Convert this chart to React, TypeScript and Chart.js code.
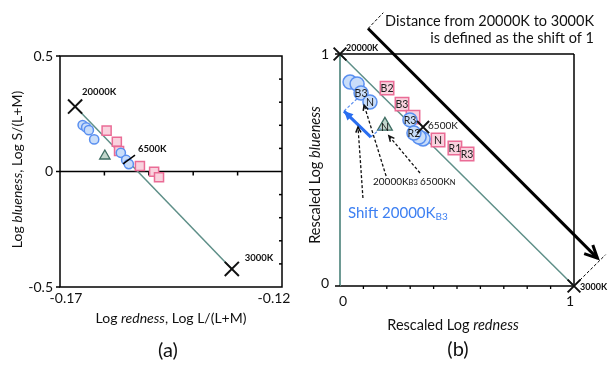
import React, { useEffect, useRef } from 'react';
import { Chart, registerables } from 'chart.js';
Chart.register(...registerables);

const FONT = 'Lato, "Open Sans", sans-serif';

// ---------- Panel (a): Log redness vs Log blueness ----------
const aCircleX = [-0.1649, -0.1641, -0.1635, -0.1623, -0.1563, -0.1551, -0.1545];
const aCircleY = [0.201, 0.191, 0.179, 0.139, 0.081, 0.05, 0.032];
const aSquareX = [-0.1595, -0.1572, -0.1567, -0.152, -0.1488, -0.1477];
const aSquareY = [0.177, 0.129, 0.089, 0.024, -0.001, -0.025];
const aTriangleX = [-0.1599];
const aTriangleY = [0.067];
const aRefNames = ['20000K', '3000K'];
const aRefX = [-0.1666, -0.1313];
const aRefY = [0.281, -0.422];
const a6500Leader = [[-0.1558, 0.033], [-0.1531, 0.071]];
const aXMinorTicks = [-0.16, -0.15, -0.14, -0.13];
const aXTickVals = [-0.17, -0.12];
const aXTickLabels = ['-0.17', '-0.12'];
const aYTickVals = [0.5, 0, -0.5];
const aYTickLabels = ['0.5', '0', '-0.5'];
const aYMinorTicks = [0.4, 0.3, 0.2, 0.1, -0.1, -0.2, -0.3, -0.4];

// ---------- Panel (b): rescaled ----------
const bCircleX = [0.043, 0.073, 0.09, 0.128, 0.299, 0.355, 0.338, 0.316];
const bCircleY = [0.879, 0.871, 0.832, 0.793, 0.716, 0.634, 0.642, 0.659];
const bCircleLabels = ['', '', 'B3', 'N', 'R3', '', '', 'R2'];
const bSquareX = [0.201, 0.265, 0.312, 0.419, 0.491, 0.543];
const bSquareY = [0.853, 0.784, 0.728, 0.629, 0.595, 0.569];
const bSquareLabels = ['B2', 'B3', '', 'N', 'R1', 'R3'];
const bTriangleX = [0.192];
const bTriangleY = [0.69];
const bTriangleLabels = ['N'];
const bRefNames = ['20000K', '3000K', '6500K'];
const bRefX = [0, 1, 0.355];
const bRefY = [1, 0, 0.685];
const bXMinorTicks = [0.1, 0.2, 0.3, 0.4, 0.5, 0.6, 0.7, 0.8, 0.9];
const bXTickVals = [0, 1];
const bYTickVals = [1, 0];
const bBigArrow = [[0.12, 1.11], [1.1, 0.12]];
const bDashTop = [[0.12, 1.11], [0.185, 1.178]];
const bDashBottom = [[1.01, 0.01], [1.135, 0.135]];
const bShiftArrow = [[0.132, 0.642], [0.017, 0.754]];
const bShiftDash = [
  [[0.017, 0.754], [0.081, 0.815]],
  [[0.132, 0.642], [0.175, 0.681]],
];
const bPointerArrows = [
  [[0.098, 0.379], [0.077, 0.685]],
  [[0.197, 0.474], [0.103, 0.78]],
  [[0.342, 0.487], [0.209, 0.647]],
];
const bTitleLines = ['Distance from 20000K to 3000K', 'is defined as the shift of 1'];

type Part = { text: string; font: string; color?: string; dy?: number };

function drawRich(ctx: CanvasRenderingContext2D, parts: Part[], x: number, y: number, align: 'left' | 'center' | 'right' = 'left') {
  let total = 0;
  for (const p of parts) {
    ctx.font = p.font;
    total += ctx.measureText(p.text).width;
  }
  let cx = align === 'center' ? x - total / 2 : align === 'right' ? x - total : x;
  ctx.textBaseline = 'middle';
  ctx.textAlign = 'left';
  for (const p of parts) {
    ctx.font = p.font;
    ctx.fillStyle = p.color || '#111';
    ctx.fillText(p.text, cx, y + (p.dy || 0));
    cx += ctx.measureText(p.text).width;
  }
}

function arrow(
  ctx: CanvasRenderingContext2D,
  x1: number, y1: number, x2: number, y2: number,
  o: { color: string; width: number; dash?: number[]; head: number; headWidth?: number; fill?: boolean }
) {
  ctx.save();
  ctx.strokeStyle = o.color;
  ctx.lineWidth = o.width;
  ctx.setLineDash(o.dash || []);
  ctx.beginPath();
  ctx.moveTo(x1, y1);
  ctx.lineTo(x2, y2);
  ctx.stroke();
  ctx.setLineDash([]);
  const a = Math.atan2(y2 - y1, x2 - x1);
  const sp = 0.45;
  const h = o.head;
  ctx.lineWidth = o.headWidth || o.width;
  ctx.beginPath();
  ctx.moveTo(x2 - h * Math.cos(a - sp), y2 - h * Math.sin(a - sp));
  ctx.lineTo(x2, y2);
  ctx.lineTo(x2 - h * Math.cos(a + sp), y2 - h * Math.sin(a + sp));
  if (o.fill) {
    ctx.closePath();
    ctx.fillStyle = o.color;
    ctx.fill();
  } else {
    ctx.stroke();
  }
  ctx.restore();
}

function line(ctx: CanvasRenderingContext2D, x1: number, y1: number, x2: number, y2: number, color: string, width: number, dash?: number[]) {
  ctx.save();
  ctx.strokeStyle = color;
  ctx.lineWidth = width;
  ctx.setLineDash(dash || []);
  ctx.beginPath();
  ctx.moveTo(x1, y1);
  ctx.lineTo(x2, y2);
  ctx.stroke();
  ctx.restore();
}

const pts = (xs: number[], ys: number[]) => xs.map((x, i) => ({ x, y: ys[i] }));

const TEAL = '#5e8f88';
const CIRCLE_FILL = '#c9ddf9';
const CIRCLE_EDGE = '#5a90f0';
const SQUARE_FILL = '#f9d2de';
const SQUARE_EDGE = '#ea6c96';
const TRI_FILL = '#c3d7cd';
const TRI_EDGE = '#3f6e63';

const pluginA = {
  id: 'panelA',
  beforeDatasetsDraw(chart: any) {
    const ctx: CanvasRenderingContext2D = chart.ctx;
    const { left, right, top, bottom } = chart.chartArea;
    const X = (v: number) => chart.scales.x.getPixelForValue(v);
    const Y = (v: number) => chart.scales.y.getPixelForValue(v);
    ctx.save();
    ctx.strokeStyle = '#000';
    ctx.lineWidth = 1.5;
    ctx.strokeRect(left, top, right - left, bottom - top);
    line(ctx, left, Y(0), right, Y(0), '#000', 1.5);
    for (const v of aXMinorTicks) line(ctx, X(v), Y(0), X(v), Y(0) + 4, '#000', 1.5);
    for (const v of aYMinorTicks) line(ctx, right, Y(v), right - 3, Y(v), '#000', 1.5);
    for (const v of aYTickVals) line(ctx, left, Y(v), left - 4, Y(v), '#000', 1.5);
    ctx.restore();
  },
  afterDatasetsDraw(chart: any) {
    const ctx: CanvasRenderingContext2D = chart.ctx;
    const { left, right, top, bottom } = chart.chartArea;
    const X = (v: number) => chart.scales.x.getPixelForValue(v);
    const Y = (v: number) => chart.scales.y.getPixelForValue(v);
    ctx.save();
    const tf = `14px ${FONT}`;
    aYTickVals.forEach((v, i) => drawRich(ctx, [{ text: aYTickLabels[i], font: tf }], left - 7, Y(v), 'right'));
    const xOff = [6, -8];
    aXTickVals.forEach((v, i) => drawRich(ctx, [{ text: aXTickLabels[i], font: tf }], X(v) + xOff[i], bottom + 11, 'center'));
    const f = `14px ${FONT}`;
    const fi = `italic 14px ${FONT}`;
    drawRich(ctx, [{ text: 'Log ', font: f }, { text: 'redness', font: fi }, { text: ', Log L/(L+M)', font: f }], (left + right) / 2, bottom + 31, 'center');
    ctx.save();
    ctx.translate(17, (top + bottom) / 2 - 2);
    ctx.rotate(-Math.PI / 2);
    drawRich(ctx, [{ text: 'Log ', font: f }, { text: 'blueness', font: fi }, { text: ', Log S/(L+M)', font: f }], 0, 0, 'center');
    ctx.restore();
    drawRich(ctx, [{ text: '(a)', font: `20px ${FONT}` }], (left + right) / 2 - 3, 351, 'center');
    const sf = `bold 9.5px ${FONT}`;
    drawRich(ctx, [{ text: aRefNames[0], font: sf }], X(aRefX[0]) + 7, Y(aRefY[0]) - 15, 'left');
    drawRich(ctx, [{ text: aRefNames[1], font: sf }], X(aRefX[1]) + 13, Y(aRefY[1]) - 11, 'left');
    line(ctx, X(a6500Leader[0][0]), Y(a6500Leader[0][1]), X(a6500Leader[1][0]), Y(a6500Leader[1][1]), '#000', 1.5);
    drawRich(ctx, [{ text: '6500K', font: sf }], X(a6500Leader[1][0]) + 3, Y(a6500Leader[1][1]) - 6, 'left');
    ctx.restore();
  },
};

const pluginB = {
  id: 'panelB',
  beforeDatasetsDraw(chart: any) {
    const ctx: CanvasRenderingContext2D = chart.ctx;
    const { left, right, top, bottom } = chart.chartArea;
    const X = (v: number) => chart.scales.x.getPixelForValue(v);
    const Y = (v: number) => chart.scales.y.getPixelForValue(v);
    line(ctx, left - 1, top, right, top, '#000', 1.5);
    line(ctx, right, top, right, bottom, '#000', 1.5);
    line(ctx, left, bottom, right, bottom, '#000', 1.5);
    line(ctx, left, top, left, bottom, TEAL, 1.8);
    for (const v of bXMinorTicks) line(ctx, X(v), bottom, X(v), bottom + 3, '#000', 1.3);
    for (const v of bYTickVals) line(ctx, left, Y(v), left - 5, Y(v), '#000', 1.5);
  },
  afterDatasetsDraw(chart: any) {
    const ctx: CanvasRenderingContext2D = chart.ctx;
    const { left, right, top, bottom } = chart.chartArea;
    const X = (v: number) => chart.scales.x.getPixelForValue(v);
    const Y = (v: number) => chart.scales.y.getPixelForValue(v);
    ctx.save();
    const mf = `10.5px ${FONT}`;
    const labelSets: [number, string[]][] = [[1, bCircleLabels], [2, bSquareLabels], [3, bTriangleLabels]];
    for (const [di, labels] of labelSets) {
      const meta = chart.getDatasetMeta(di);
      labels.forEach((t, i) => {
        if (!t) return;
        const el = meta.data[i];
        drawRich(ctx, [{ text: t, font: mf, color: '#1a1a1a' }], el.x, el.y + (di === 3 ? 2 : 0.5), 'center');
      });
    }
    const tf = `14px ${FONT}`;
    bYTickVals.forEach((v) => drawRich(ctx, [{ text: String(v), font: tf }], left - 11, Y(v) - (v === 0 ? 3 : 0), 'right'));
    const xOff = [3, -4];
    bXTickVals.forEach((v, i) => drawRich(ctx, [{ text: String(v), font: tf }], X(v) + xOff[i], bottom + 15, 'center'));
    const f = `14.5px ${FONT}`;
    const fi = `italic 14.5px ${FONT}`;
    drawRich(ctx, [{ text: 'Rescaled Log ', font: f }, { text: 'redness', font: fi }], (left + right) / 2 - 4, bottom + 39, 'center');
    ctx.save();
    ctx.translate(10, (top + bottom) / 2 + 5);
    ctx.rotate(-Math.PI / 2);
    drawRich(ctx, [{ text: 'Rescaled Log ', font: f }, { text: 'blueness', font: fi }], 0, 0, 'center');
    ctx.restore();
    drawRich(ctx, [{ text: '(b)', font: `20px ${FONT}` }], (left + right) / 2 + 1, 350, 'center');
    const sf = `bold 9px ${FONT}`;
    drawRich(ctx, [{ text: bRefNames[0], font: sf }], X(bRefX[0]) + 6, Y(bRefY[0]) - 6, 'left');
    drawRich(ctx, [{ text: bRefNames[1], font: sf }], X(bRefX[1]) + 6, Y(bRefY[1]) + 1, 'left');
    drawRich(ctx, [{ text: bRefNames[2], font: `10px ${FONT}` }], X(bRefX[2]) + 5, Y(bRefY[2]) - 1, 'left');
    line(ctx, X(bDashTop[0][0]), Y(bDashTop[0][1]), X(bDashTop[1][0]), Y(bDashTop[1][1]), '#000', 1, [3, 2]);
    line(ctx, X(bDashBottom[0][0]), Y(bDashBottom[0][1]), X(bDashBottom[1][0]), Y(bDashBottom[1][1]), '#000', 1, [3, 2]);
    arrow(ctx, X(bBigArrow[0][0]), Y(bBigArrow[0][1]), X(bBigArrow[1][0]), Y(bBigArrow[1][1]), { color: '#000', width: 3, head: 14, headWidth: 3 });
    const hf = `14.5px ${FONT}`;
    drawRich(ctx, [{ text: bTitleLines[0], font: hf }], right + 20, 21, 'right');
    drawRich(ctx, [{ text: bTitleLines[1], font: hf }], right + 20, 38, 'right');
    for (const d of bShiftDash) line(ctx, X(d[0][0]), Y(d[0][1]), X(d[1][0]), Y(d[1][1]), '#5b8ff0', 1.2, [3, 2]);
    arrow(ctx, X(bShiftArrow[0][0]), Y(bShiftArrow[0][1]), X(bShiftArrow[1][0]), Y(bShiftArrow[1][1]), { color: '#2a6ef0', width: 3, head: 10, fill: true });
    for (const a of bPointerArrows) arrow(ctx, X(a[0][0]), Y(a[0][1]), X(a[1][0]), Y(a[1][1]), { color: '#111', width: 1.3, dash: [3, 2], head: 6, headWidth: 1.5 });
    const lf = `10px ${FONT}`;
    const lsf = `7.5px ${FONT}`;
    drawRich(ctx, [{ text: '20000K', font: lf }, { text: 'B3', font: lsf, dy: 1 }], X(0.141), Y(0.448), 'left');
    drawRich(ctx, [{ text: '6500K', font: lf }, { text: 'N', font: lsf, dy: 1 }], X(0.342), Y(0.448), 'left');
    drawRich(ctx, [{ text: 'Shift 20000K', font: `15px ${FONT}`, color: '#3c7ff2' }, { text: 'B3', font: `10px ${FONT}`, color: '#3c7ff2', dy: 4 }], X(0.034), Y(0.315), 'left');
    ctx.restore();
  },
};

function makeConfig(panel: 'a' | 'b'): any {
  const isA = panel === 'a';
  const datasets = isA
    ? [
        { data: pts(aRefX, aRefY), pointStyle: 'crossRot', pointRadius: 10, borderColor: '#111', borderWidth: 2, order: 1 },
        { data: pts(aCircleX, aCircleY), pointStyle: 'circle', pointRadius: 4.6, backgroundColor: CIRCLE_FILL, borderColor: CIRCLE_EDGE, borderWidth: 1.5, order: 3 },
        { data: pts(aSquareX, aSquareY), pointStyle: 'rect', pointRadius: 6.4, backgroundColor: SQUARE_FILL, borderColor: SQUARE_EDGE, borderWidth: 1.5, order: 4 },
        { data: pts(aTriangleX, aTriangleY), pointStyle: 'triangle', pointRadius: 6, backgroundColor: TRI_FILL, borderColor: TRI_EDGE, borderWidth: 1.3, order: 2 },
        { data: pts(aRefX, aRefY), showLine: true, pointRadius: 0, borderColor: TEAL, borderWidth: 1.5, order: 10 },
      ]
    : [
        { data: pts(bRefX, bRefY), pointStyle: 'crossRot', pointRadius: [9, 9, 8.5], borderColor: '#111', borderWidth: 2, order: 1 },
        { data: pts(bCircleX, bCircleY), pointStyle: 'circle', pointRadius: 7, backgroundColor: CIRCLE_FILL, borderColor: CIRCLE_EDGE, borderWidth: 1.5, order: 3 },
        { data: pts(bSquareX, bSquareY), pointStyle: 'rect', pointRadius: 9.5, backgroundColor: SQUARE_FILL, borderColor: SQUARE_EDGE, borderWidth: 1.5, order: 4 },
        { data: pts(bTriangleX, bTriangleY), pointStyle: 'triangle', pointRadius: 8.5, backgroundColor: TRI_FILL, borderColor: TRI_EDGE, borderWidth: 1.3, order: 2 },
        { data: pts([bRefX[0], bRefX[1]], [bRefY[0], bRefY[1]]), showLine: true, pointRadius: 0, borderColor: TEAL, borderWidth: 1.5, order: 10 },
      ];
  datasets.forEach((d: any) => (d.clip = false));
  return {
    type: 'scatter',
    data: { datasets },
    options: {
      animation: false,
      responsive: false,
      devicePixelRatio: 1,
      events: [],
      layout: { padding: isA ? { left: 60, right: 23, top: 56, bottom: 79 } : { left: 35, right: 36, top: 54, bottom: 80 } },
      plugins: { legend: { display: false }, tooltip: { enabled: false } },
      scales: {
        x: { type: 'linear', display: false, min: isA ? -0.17 : 0, max: isA ? -0.12 : 1 },
        y: { type: 'linear', display: false, min: isA ? -0.5 : 0, max: isA ? 0.5 : 1 },
      },
    },
    plugins: [isA ? pluginA : pluginB],
  };
}

export default function App() {
  const refA = useRef<HTMLCanvasElement>(null);
  const refB = useRef<HTMLCanvasElement>(null);
  useEffect(() => {
    const ca = new Chart(refA.current as HTMLCanvasElement, makeConfig('a'));
    const cb = new Chart(refB.current as HTMLCanvasElement, makeConfig('b'));
    return () => {
      ca.destroy();
      cb.destroy();
    };
  }, []);
  return (
    <div style={{ position: 'fixed', left: 0, top: 0, width: 610, height: 366, background: '#fff', overflow: 'hidden' }}>
      <canvas ref={refA} width={305} height={366} style={{ position: 'absolute', left: 0, top: 0 }} />
      <canvas ref={refB} width={305} height={366} style={{ position: 'absolute', left: 305, top: 0 }} />
    </div>
  );
}
